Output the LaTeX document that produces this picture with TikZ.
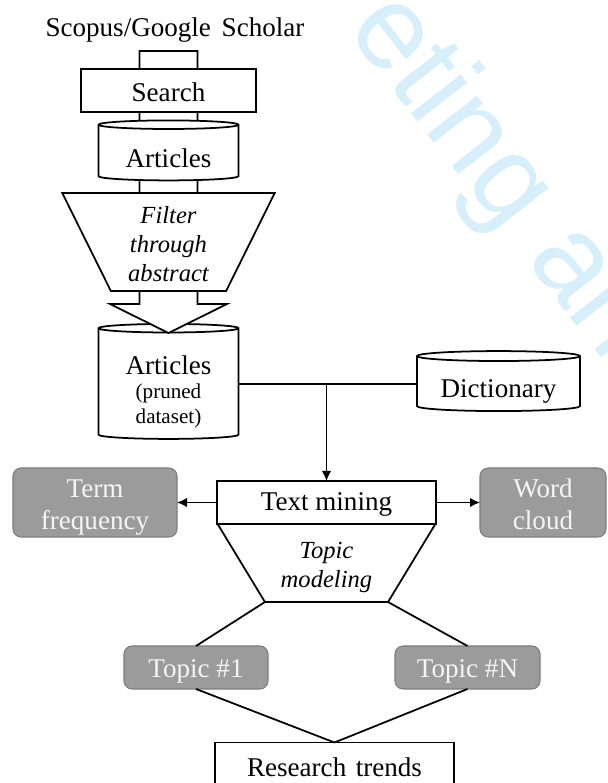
\documentclass[tikz,border=0pt]{standalone}
\usepackage{fontspec}
\setmainfont{Liberation Serif}
\newfontfamily\wmfont{Liberation Sans}
\usetikzlibrary{shapes.geometric,arrows.meta}
\definecolor{wmark}{RGB}{214,239,251}
\definecolor{boxgray}{RGB}{155,155,155}
\definecolor{boxedge}{RGB}{125,125,125}
\definecolor{boxtext}{RGB}{245,245,245}

\begin{document}
\begin{tikzpicture}[
  font=\fontsize{15.4}{18}\selectfont,
  line width=1pt,
  proc/.style={draw, fill=white, rectangle, inner sep=0pt, outer sep=0pt, text height=0.45cm},
  db/.style={draw, fill=white, cylinder, shape border rotate=90, aspect=0.1, inner sep=0pt, outer sep=0pt},
  funnel/.style={draw, fill=white, trapezium, trapezium stretches=true, inner sep=0pt, outer sep=0pt,
    font=\fontsize{14}{16.5}\selectfont\itshape, align=center},
  result/.style={draw=boxedge, fill=boxgray, text=boxtext, rounded corners=0.16cm, line width=0.6pt,
    inner sep=0pt, outer sep=0pt, align=center},
  flow/.style={-{Latex[length=2mm,width=1.9mm]}}
]
\useasboundingbox (0,0) rectangle (12.16,15.66);

% Watermark
\node[anchor=base west, rotate=-52, text=wmark, font=\fontsize{68}{68}\selectfont\wmfont] (wm) at (6.82,15.18) {eting an};

% Pruned dataset (under the big arrow tip)
\node[db, minimum width=2.8cm, minimum height=2.3cm, align=center, text height=1.66cm,
  font=\fontsize{12}{14}\selectfont] (pruned) at (3.37,7.98) {\fontsize{15.4}{18}\selectfont Articles\\(pruned\\dataset)};

% Big arrow behind the search column
\draw[fill=white] (2.79,14.64) -- (3.95,14.64) -- (3.95,9.58) -- (4.54,9.58) -- (3.37,9.0)
  -- (2.2,9.58) -- (2.79,9.58) -- cycle;

% Search column
\node[anchor=base] (src) at (3.5,14.92) {Scopus/Google \hspace{0.15em}Scholar};
\node[proc, minimum width=3.5cm, minimum height=0.86cm] (search) at (3.37,13.85) {Search};
\node[db, minimum width=2.8cm, minimum height=1.2cm, text height=0.57cm] (art) at (3.37,12.6) {Articles};
\node[funnel, trapezium left angle=113.2, trapezium right angle=113.2, minimum width=4.26cm,
  minimum height=1.96cm, anchor=north, text height=1.58cm] (filter) at (3.37,11.8) {Filter\\through\\abstract};

% Dictionary
\node[db, aspect=0.086, minimum width=3.26cm, minimum height=1.2cm, text height=0.65cm] (dict) at (9.97,7.98) {Dictionary};

% Mining
\node[proc, minimum width=4.38cm, minimum height=0.86cm] (tm) at (6.53,5.61) {Text mining};
\node[funnel, trapezium left angle=120.3, trapezium right angle=120.3, minimum width=4.38cm,
  minimum height=1.56cm, anchor=north, text height=1.1cm] (topics) at (tm.south) {Topic\\modeling};
\node[result, minimum width=3.28cm, minimum height=1.38cm, text height=1.2cm] (tf) at (1.9,5.61) {Term\\frequency};
\node[result, minimum width=2.52cm, minimum height=1.38cm, text height=1.08cm] (wc) at (10.86,5.61) {Word\\cloud};

% Topics
\node[result, minimum width=2.88cm, minimum height=0.86cm, text height=0.53cm] (t1) at (3.92,2.31) {Topic \#1};
\node[result, minimum width=2.9cm, minimum height=0.86cm, text height=0.53cm] (tn) at (9.35,2.31) {Topic \#N};
\node[proc, minimum width=4.78cm, minimum height=0.9cm] (trend) at (6.69,0.36) {Research \hspace{0.1em}trends};

% Connectors
\draw (pruned.east) -- (dict.west);
\draw[flow] (pruned.east -| tm.north) -- (tm.north);
\draw[flow] (tm.west) -- (tf.east);
\draw[flow] (tm.east) -- (wc.west);
\draw (topics.bottom left corner) -- (t1.north);
\draw (topics.bottom right corner) -- (tn.north);
\draw (t1.south) -- (trend.north);
\draw (tn.south) -- (trend.north);
\end{tikzpicture}
\end{document}
